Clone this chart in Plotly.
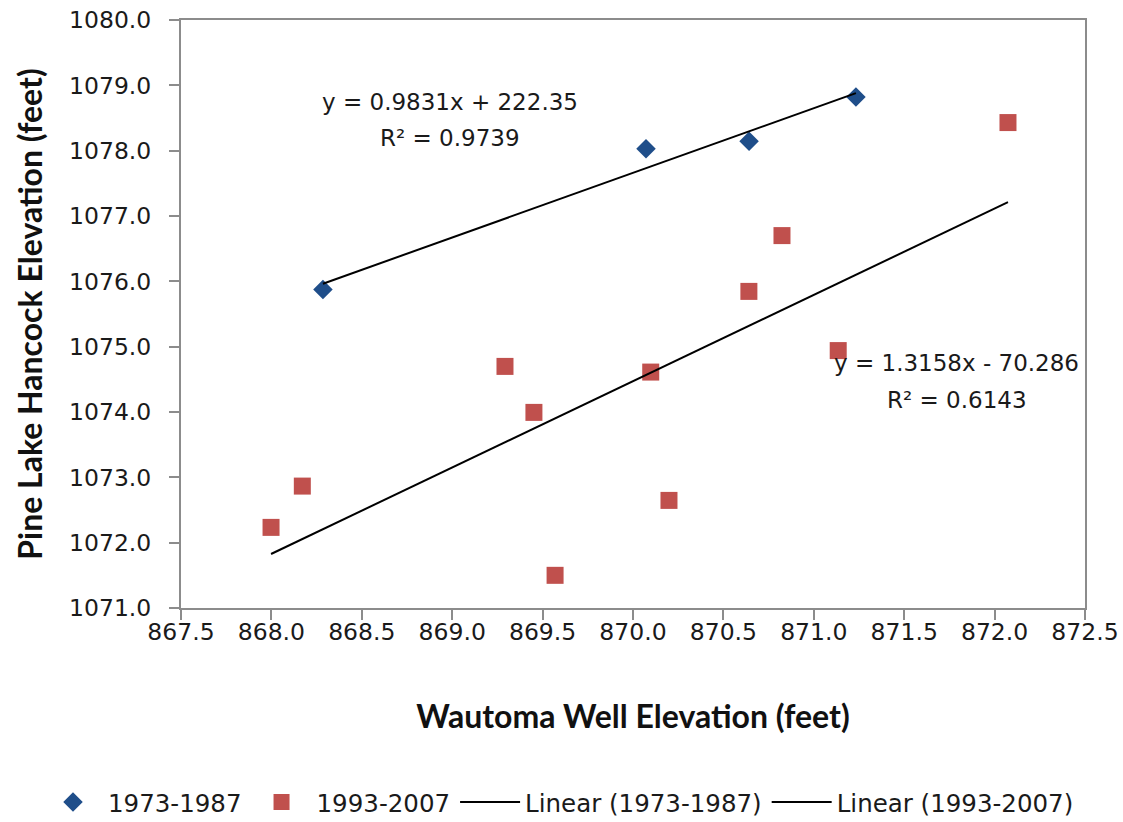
import numpy as np
import plotly.graph_objects as go

# ---- data ----
x_1973 = [868.285, 870.072, 870.642, 871.233]
y_1973 = [1075.876, 1078.030, 1078.145, 1078.820]

x_1993 = [867.998, 868.171, 869.292, 869.452, 869.569, 870.098, 870.199, 870.641, 870.824, 871.135, 872.074]
y_1993 = [1072.234, 1072.866, 1074.698, 1073.994, 1071.500, 1074.611, 1072.647, 1075.846, 1076.700, 1074.940, 1078.430]

series_names = ["1973-1987", "1993-2007", "Linear (1973-1987)", "Linear (1993-2007)"]
eq_text_1973 = ["y = 0.9831x + 222.35", "R² = 0.9739"]
eq_text_1993 = ["y = 1.3158x - 70.286", "R² = 0.6143"]

x_ticks = [867.5, 868.0, 868.5, 869.0, 869.5, 870.0, 870.5, 871.0, 871.5, 872.0, 872.5]
y_ticks = [1071.0, 1072.0, 1073.0, 1074.0, 1075.0, 1076.0, 1077.0, 1078.0, 1079.0, 1080.0]

BLUE = "#1F4E8A"
RED = "#C0504D"
AXIS = "#8C8C8C"
TICK_FONT = dict(family="DejaVu Sans", size=23.5, color="#1a1a1a")
LEGEND_FONT = dict(family="DejaVu Sans", size=24.5, color="#1a1a1a")
TITLE_FONT = dict(family="Lato", size=32, color="#111111", weight="bold")


def trend(xs, ys):
    m, b = np.polyfit(xs, ys, 1)
    xe = np.array([min(xs), max(xs)])
    return xe, m * xe + b


fig = go.Figure()
fig.add_trace(go.Scatter(x=x_1973, y=y_1973, mode="markers", name=series_names[0],
                         marker=dict(symbol="diamond", size=15, color=BLUE)))
fig.add_trace(go.Scatter(x=x_1993, y=y_1993, mode="markers", name=series_names[1],
                         marker=dict(symbol="square", size=17, color=RED)))
tx, ty = trend(x_1973, y_1973)
fig.add_trace(go.Scatter(x=tx, y=ty, mode="lines", name=series_names[2],
                         line=dict(color="black", width=2)))
tx, ty = trend(x_1993, y_1993)
fig.add_trace(go.Scatter(x=tx, y=ty, mode="lines", name=series_names[3],
                         line=dict(color="black", width=2)))

ann_font = dict(family="DejaVu Sans", size=23, color="#1a1a1a")
for txt, xx, yy in [(eq_text_1973[0], 868.99, 1078.74), (eq_text_1973[1], 868.99, 1078.19),
                    (eq_text_1993[0], 871.79, 1074.75), (eq_text_1993[1], 871.79, 1074.18)]:
    fig.add_annotation(x=xx, y=yy, text=txt, showarrow=False, font=ann_font,
                       xanchor="center", yanchor="middle")

axis_common = dict(showgrid=False, zeroline=False, showline=True, linecolor=AXIS, linewidth=2,
                   mirror=True, ticks="outside", ticklen=10, tickcolor=AXIS, tickwidth=2,
                   tickfont=TICK_FONT)
fig.update_xaxes(range=[867.5, 872.5], tickvals=x_ticks, ticktext=[f"{v:.1f}" for v in x_ticks],
                 ticklabelstandoff=-8,
                 title=dict(text="Wautoma Well Elevation (feet)", font=TITLE_FONT, standoff=60),
                 **axis_common)
fig.update_yaxes(range=[1071.0, 1080.0], tickvals=y_ticks, ticktext=[f"{v:.1f}" for v in y_ticks],
                 ticklabelstandoff=13,
                 title=dict(text="Pine Lake Hancock Elevation (feet)", font=TITLE_FONT, standoff=17),
                 **axis_common)

fig.update_layout(
    width=1123, height=822,
    margin=dict(l=181, r=38, t=20, b=214, autoexpand=False),
    paper_bgcolor="white", plot_bgcolor="white",
    showlegend=True,
    legend=dict(orientation="h", x=-0.1582, xanchor="left", y=-0.33, yanchor="middle",
                font=LEGEND_FONT, itemwidth=60, tracegroupgap=0),
)

fig.write_html("out.html")
